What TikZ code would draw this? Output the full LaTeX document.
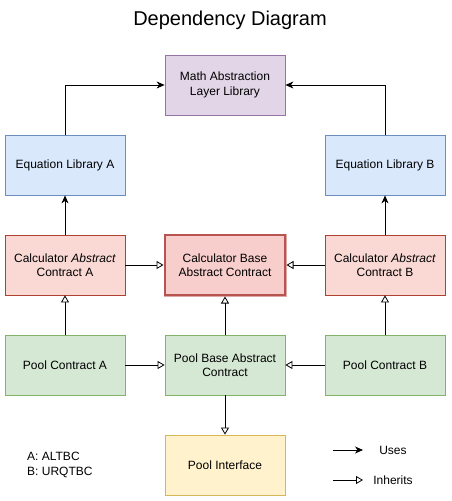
\documentclass[tikz,border=0pt]{standalone}
\usepackage{fontspec}
\setmainfont{Liberation Sans}
\usetikzlibrary{arrows.meta}
\definecolor{purpfill}{HTML}{E1D5E7}\definecolor{purpline}{HTML}{9673A6}
\definecolor{bluefill}{HTML}{DAE8FC}\definecolor{blueline}{HTML}{6C8EBF}
\definecolor{redfill}{HTML}{FAD9D5}\definecolor{redline}{HTML}{AE4132}
\definecolor{redfillb}{HTML}{F8CECC}\definecolor{redlineb}{HTML}{B85450}
\definecolor{greenfill}{HTML}{D5E8D4}\definecolor{greenline}{HTML}{82B366}
\definecolor{yelfill}{HTML}{FFF2CC}\definecolor{yelline}{HTML}{D6B656}
\begin{document}
\begin{tikzpicture}[x=1pt,y=-1pt,
  box/.style={draw, minimum width=120pt, minimum height=60pt, align=center, font=\fontsize{12}{14.5}\selectfont, line width=0.8pt, inner sep=0pt},
  uses/.style={draw, line width=0.8pt, -{Stealth[length=8pt,width=7pt,inset=2.5pt]}},
  inh/.style={draw, line width=0.8pt, -{Triangle[open,length=7pt,width=8pt,fill=white]}},
  lbl/.style={font=\fontsize{12}{14.5}\selectfont, inner sep=0pt}]
\useasboundingbox (0,0) rectangle (452,501);
\node[font=\fontsize{20}{23}\selectfont] (title) at (230,20) {Dependency Diagram};
\node[box, fill=purpfill, draw=purpline] (math) at (225,85) {Math Abstraction\\Layer Library};
\node[box, fill=bluefill, draw=blueline] (eqa) at (65,165) {Equation Library A};
\node[box, fill=bluefill, draw=blueline] (eqb) at (385,165) {Equation Library B};
\node[box, fill=redfill, draw=redline] (calca) at (65,265) {Calculator \textit{Abstract}\\Contract A};
\node[box, fill=redfillb, draw=redlineb!50, line width=1pt, minimum width=122pt, minimum height=62pt] (calcbase) at (225,265) {};
\node[box, fill=redfillb, draw=redlineb, line width=1.6pt, minimum width=120pt, minimum height=60pt] (calcbasein) at (225,265) {Calculator Base\\Abstract Contract};
\node[box, fill=redfill, draw=redline] (calcb) at (385,265) {Calculator \textit{Abstract}\\Contract B};
\node[box, fill=greenfill, draw=greenline] (poola) at (65,365) {Pool Contract A};
\node[box, fill=greenfill, draw=greenline] (poolbase) at (225,365) {Pool Base Abstract\\Contract};
\node[box, fill=greenfill, draw=greenline] (poolb) at (385,365) {Pool Contract B};
\node[box, fill=yelfill, draw=yelline] (iface) at (225,465) {Pool Interface};
% uses
\draw[uses] (eqa.north) |- (math.west);
\draw[uses] (eqb.north) |- (math.east);
\draw[uses] (calca.north) -- (eqa.south);
\draw[uses] (calcb.north) -- (eqb.south);
% inherits
\draw[inh] (calca.east) -- (calcbase.west);
\draw[inh] (calcb.west) -- (calcbase.east);
\draw[inh] (poola.north) -- (calca.south);
\draw[inh] (poolb.north) -- (calcb.south);
\draw[inh] (poolbase.north) -- (calcbase.south);
\draw[inh] (poola.east) -- (poolbase.west);
\draw[inh] (poolb.west) -- (poolbase.east);
\draw[inh] (poolbase.south) -- (iface.north);
% legend
\node[lbl, align=left, anchor=west] (keys) at (27,465) {A: ALTBC\\B: URQTBC};
\coordinate (u1) at (333,450); \coordinate (u2) at (363,450);
\draw[uses] (u1) -- (u2);
\node[lbl] (usestxt) at (393,450) {Uses};
\coordinate (i1) at (333,480); \coordinate (i2) at (363,480);
\draw[inh] (i1) -- (i2);
\node[lbl] (inhtxt) at (393,480) {Inherits};
\end{tikzpicture}
\end{document}
